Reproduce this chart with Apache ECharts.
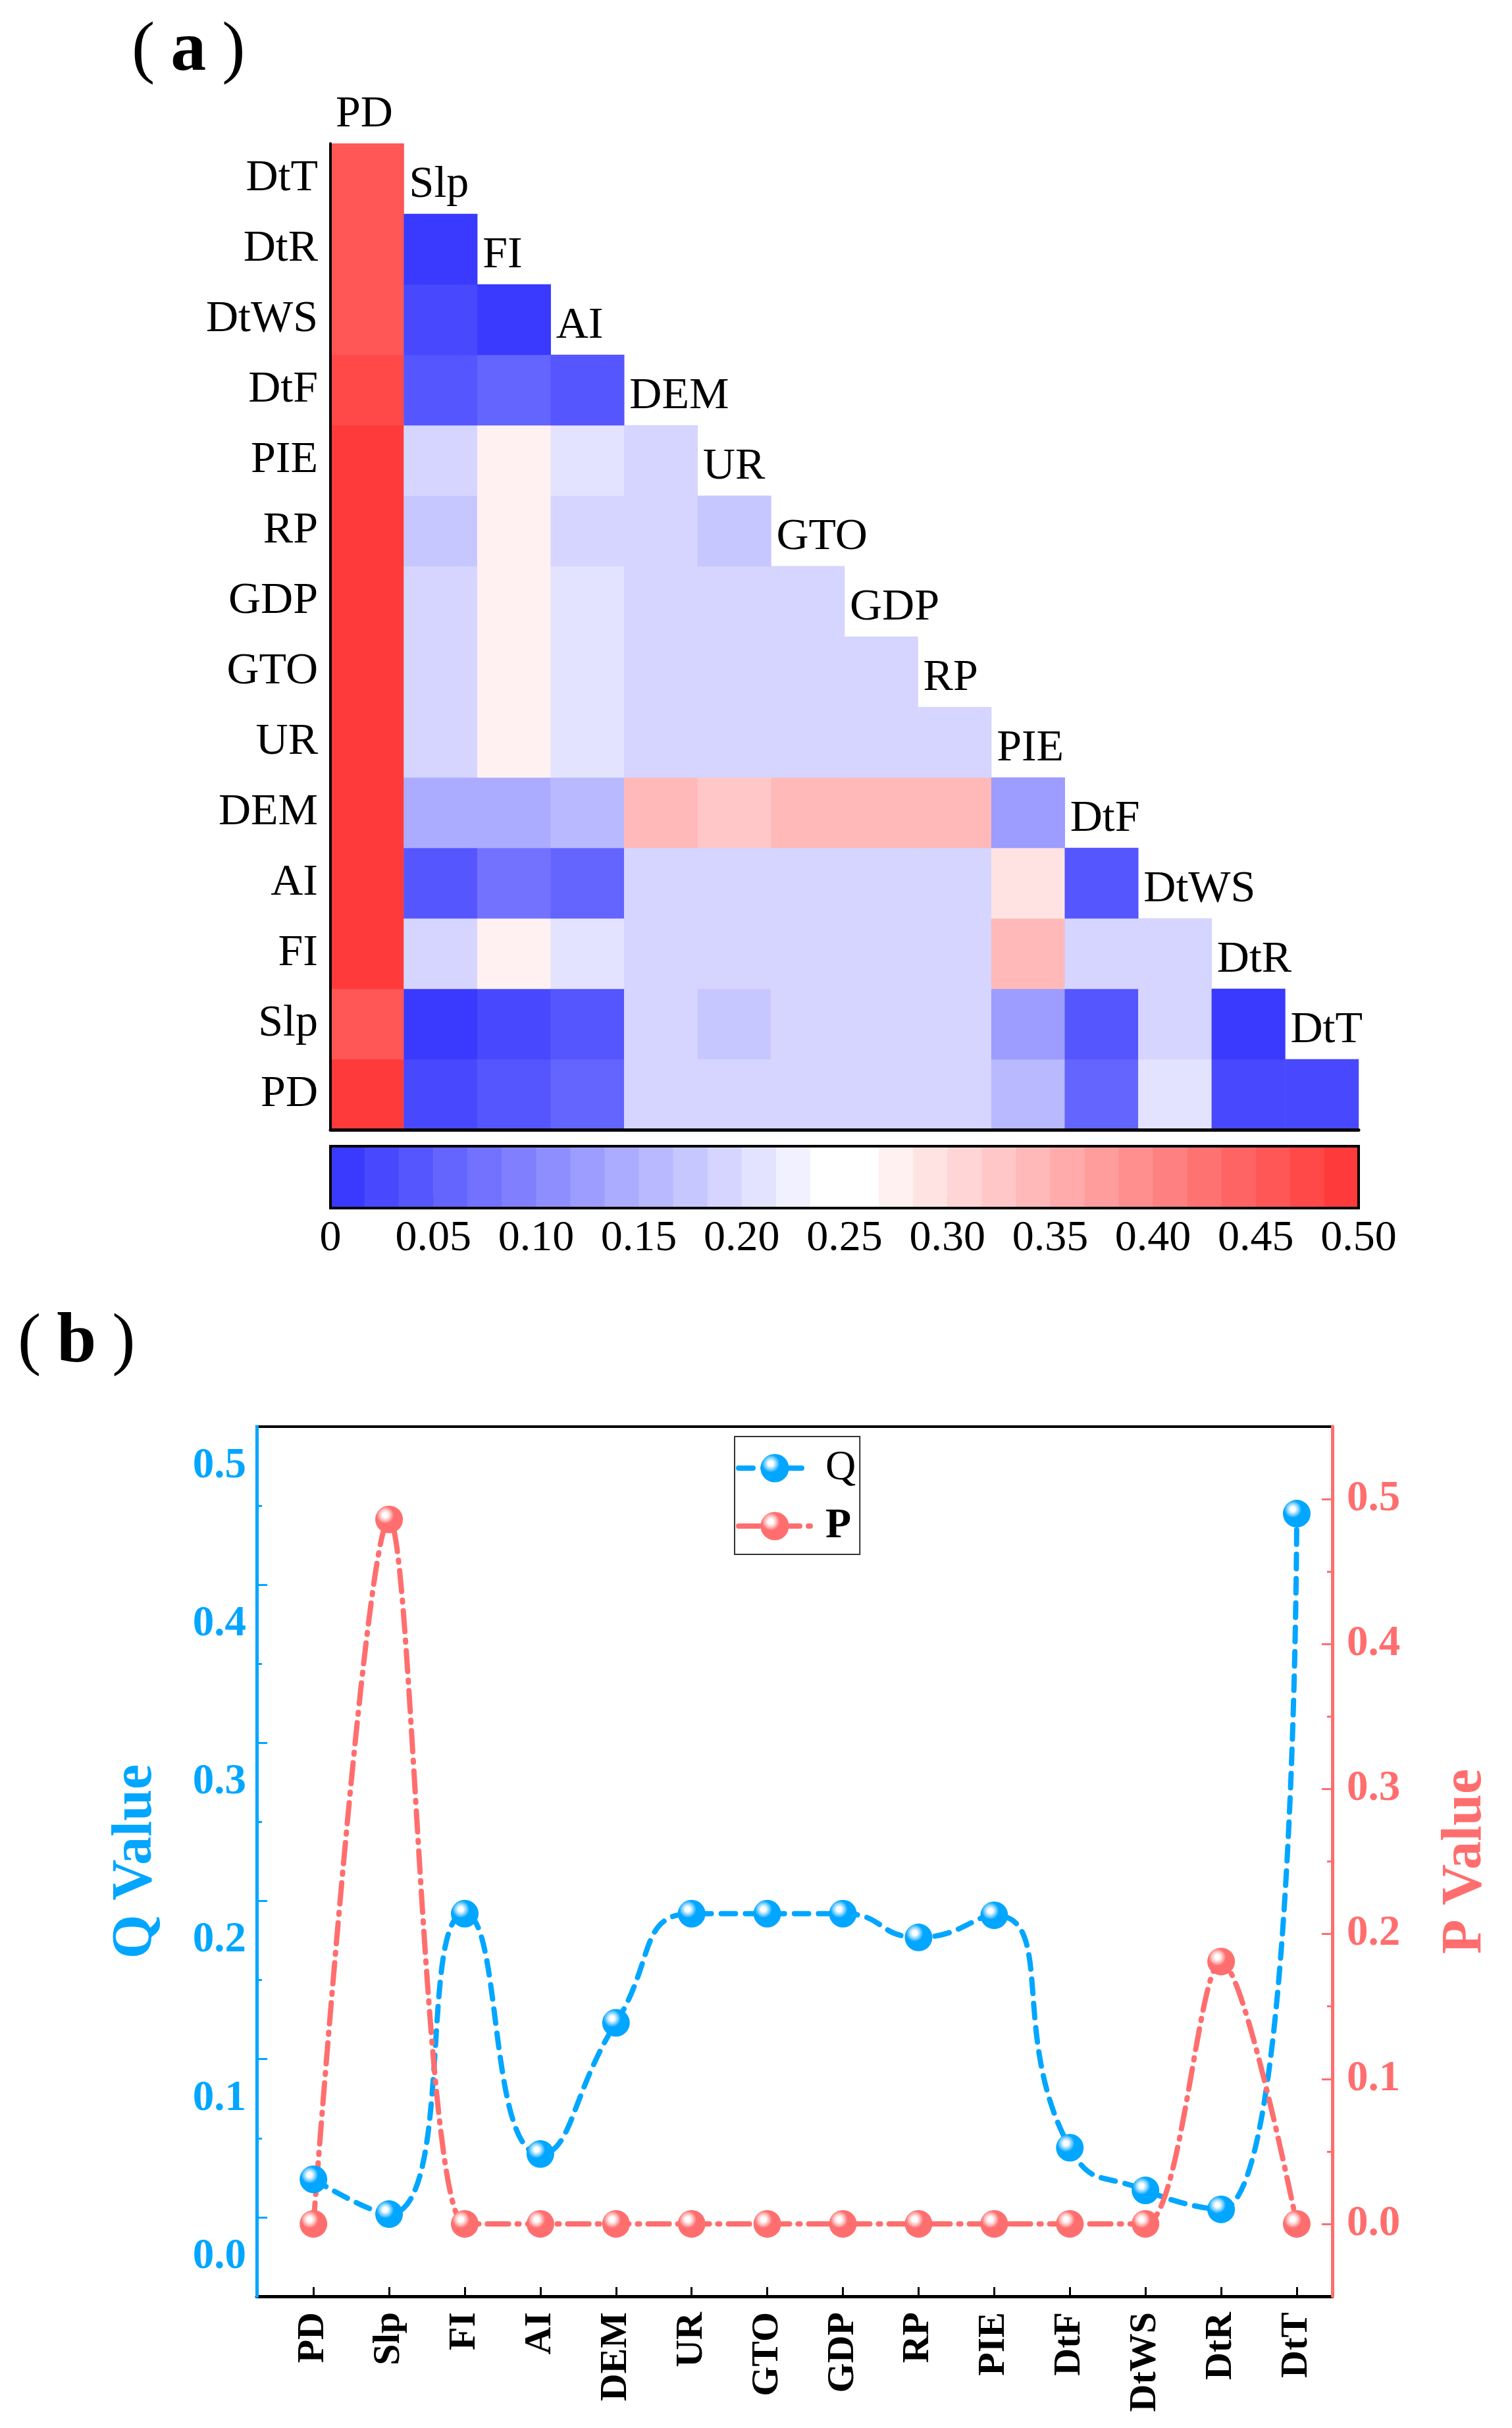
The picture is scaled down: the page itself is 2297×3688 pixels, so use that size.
<!DOCTYPE html>
<html>
<head>
<meta charset="utf-8">
<title>Interaction q heatmap and q / p values</title>
<script src="https://cdn.jsdelivr.net/npm/echarts@6.0.0/dist/echarts.min.js"></script>
<style>
  html, body { margin: 0; padding: 0; background: #fff; }
  #main { width: 2297px; height: 3688px; }
</style>
</head>
<body>
<div id="main"></div>
<script>
// factors, in axis order (bottom -> top on the heatmap y axis, left -> right on x)
const factors = ['PD', 'Slp', 'FI', 'AI', 'DEM', 'UR', 'GTO', 'GDP', 'RP', 'PIE', 'DtF', 'DtWS', 'DtR', 'DtT'];

// interaction q, one row per y-axis factor, values across the columns PD, Slp, ...
const qRowPD   = [0.490, 0.025, 0.040, 0.058, 0.192, 0.190, 0.191, 0.191, 0.189, 0.158, 0.057, 0.208, 0.026, 0.027];
const qRowSlp  = [0.458, 0.010, 0.026, 0.041, 0.192, 0.176, 0.191, 0.190, 0.190, 0.125, 0.042, 0.192, 0.009];
const qRowFI   = [0.491, 0.192, 0.275, 0.210, 0.193, 0.192, 0.193, 0.193, 0.192, 0.340, 0.191, 0.192];
const qRowAI   = [0.492, 0.040, 0.072, 0.058, 0.190, 0.190, 0.190, 0.190, 0.190, 0.290, 0.041];
const qRowDEM  = [0.493, 0.142, 0.142, 0.158, 0.342, 0.325, 0.341, 0.341, 0.341, 0.125];
const qRowUR   = [0.492, 0.192, 0.274, 0.209, 0.192, 0.192, 0.192, 0.192, 0.192];
const qRowGTO  = [0.492, 0.192, 0.275, 0.209, 0.192, 0.192, 0.192, 0.192];
const qRowGDP  = [0.492, 0.192, 0.275, 0.209, 0.192, 0.192, 0.192];
const qRowRP   = [0.492, 0.176, 0.275, 0.192, 0.192, 0.176];
const qRowPIE  = [0.492, 0.192, 0.276, 0.209, 0.192];
const qRowDtF  = [0.475, 0.042, 0.058, 0.042];
const qRowDtWS = [0.458, 0.025, 0.008];
const qRowDtR  = [0.458, 0.008];
const qRowDtT  = [0.458];
const qRows = [qRowPD, qRowSlp, qRowFI, qRowAI, qRowDEM, qRowUR, qRowGTO, qRowGDP,
               qRowRP, qRowPIE, qRowDtF, qRowDtWS, qRowDtR, qRowDtT];

// single factor q and p values (panel b)
const qValue = [0.049, 0.027, 0.217, 0.065, 0.148, 0.217, 0.217, 0.217, 0.202, 0.216, 0.069, 0.042, 0.030, 0.470];
const pValue = [0.000, 0.486, 0.000, 0.000, 0.000, 0.000, 0.000, 0.000, 0.000, 0.000, 0.000, 0.000, 0.181, 0.000];

// tick labels
const qLabels = [0, 0.1, 0.2, 0.3, 0.4, 0.5];
const qMajorTicks = [0.025, 0.125, 0.225, 0.325, 0.425];
const qMinorTicks = [0.075, 0.175, 0.275, 0.375, 0.475];
const pLabels = [0, 0.1, 0.2, 0.3, 0.4, 0.5];
const pMinorTicks = [0.05, 0.15, 0.25, 0.35, 0.45];

// colour bar: 30 steps from blue through white to red over 0 .. 0.5
const barSteps = 30;
const barMax = 0.5;
const blueEnd = [58, 58, 255];
const redEnd = [255, 58, 58];
const white = [255, 255, 255];
function mix(a, b, t) {
  const c = a.map((v, i) => Math.round(v + (b[i] - v) * t));
  return 'rgb(' + c.join(',') + ')';
}
const palette = [];
for (let k = 0; k < barSteps; k++) {
  palette.push(k < barSteps / 2 ? mix(blueEnd, white, k / 14) : mix(white, redEnd, (k - 15) / 14));
}
const step = barMax / barSteps;
const pieces = palette.map((color, k) => (k === barSteps - 1
  ? { gte: k * step, lte: barMax, color }
  : { gte: k * step, lt: (k + 1) * step, color }));
const barCells = palette.map((c, k) => [k * step, (k + 1) * step, k]);

const heatData = [];
qRows.forEach((row, r) => row.forEach((v, c) => heatData.push([c, r, v])));

const serif = '"Liberation Serif", "Times New Roman", serif';
const qColor = '#00a6ff';
const pColor = '#ff6e6e';

function ball(base, ring) {
  return {
    type: 'radial', x: 0.36, y: 0.34, r: 0.7,
    colorStops: [
      { offset: 0, color: '#ffffff' },
      { offset: 0.12, color: '#ffffff' },
      { offset: 0.28, color: ring },
      { offset: 0.45, color: base },
      { offset: 1, color: base }
    ]
  };
}

function panelTag(letter, left, top) {
  return {
    type: 'text', left: left, top: top,
    style: {
      text: '{p|(}{b|' + letter + '}{p|)}',
      rich: {
        p: { fontFamily: serif, fontSize: 106, fill: '#000' },
        b: { fontFamily: serif, fontSize: 108, fontWeight: 'bold', fill: '#000', padding: [0, 24, 0, 24] }
      }
    }
  };
}

const chart = echarts.init(document.getElementById('main'), null, { renderer: 'canvas' });

const option = {
  backgroundColor: '#fff',
  animation: false,
  graphic: [panelTag('a', 200, 24), panelTag('b', 27, 1986)],
  visualMap: {
    type: 'piecewise', show: false, seriesIndex: 0, dimension: 2, pieces: pieces
  },
  legend: {
    data: ['Q', 'P'],
    orient: 'vertical',
    left: 1116, top: 2182,
    itemWidth: 110, itemHeight: 54, itemGap: 24,
    padding: [16, 6, 11, 2],
    borderColor: '#333', borderWidth: 2,
    lineStyle: { width: 8 },
    formatter: name => (name === 'P' ? '{bold|P}' : '{reg|Q}'),
    textStyle: {
      padding: [0, 0, 0, 17], lineHeight: 54,
      rich: {
        reg: { fontFamily: serif, fontSize: 64, color: '#000', lineHeight: 54 },
        bold: { fontFamily: serif, fontSize: 64, fontWeight: 'bold', color: '#000', lineHeight: 54 }
      }
    }
  },
  grid: [
    { left: 502, top: 218, width: 1562, height: 1498 },
    { left: 502, top: 1741, width: 1562, height: 94, show: true, borderColor: '#000', borderWidth: 4, z: 10 },
    { left: 390, top: 2167, width: 1634, height: 1321, show: true, borderColor: '#000', borderWidth: 4 }
  ],
  xAxis: [
    {
      type: 'category', gridIndex: 0, data: factors, z: 5,
      axisLine: { lineStyle: { color: '#000', width: 5 } },
      axisTick: { show: false }, axisLabel: { show: false }, splitLine: { show: false }
    },
    {
      type: 'value', gridIndex: 1, min: 0, max: barMax, interval: 0.05,
      axisLine: { show: false },
      axisTick: { inside: true, length: 17, lineStyle: { color: '#000', width: 2 } },
      axisLabel: {
        margin: 14, fontFamily: serif, fontSize: 66, color: '#000',
        formatter: v => (v === 0 ? '0' : v.toFixed(2))
      },
      splitLine: { show: false }
    },
    {
      type: 'value', gridIndex: 2, min: -0.75, max: 13.47,
      axisLine: { onZero: false, lineStyle: { color: '#000', width: 5 } },
      axisTick: { inside: true, length: 14, lineStyle: { color: '#000', width: 3 },
                  customValues: factors.map((f, i) => i) },
      axisLabel: {
        rotate: 90, margin: 24, fontFamily: serif, fontSize: 58, fontWeight: 'bold', color: '#000',
        customValues: factors.map((f, i) => i),
        formatter: v => factors[Math.round(v)]
      },
      splitLine: { show: false }
    }
  ],
  yAxis: [
    {
      type: 'category', gridIndex: 0, data: factors, z: 5,
      axisLine: { lineStyle: { color: '#000', width: 4 } },
      axisTick: { show: false },
      axisLabel: { margin: 19, fontFamily: serif, fontSize: 68, color: '#000' },
      splitLine: { show: false }
    },
    { type: 'value', gridIndex: 1, min: 0, max: 1, show: false },
    {
      type: 'value', gridIndex: 2, position: 'left', min: -0.025, max: 0.525, z: 5,
      name: 'Q Value', nameLocation: 'middle', nameRotate: 90, nameGap: 140,
      nameTextStyle: { fontFamily: serif, fontSize: 86, fontWeight: 'bold', color: qColor },
      axisLine: { onZero: false, lineStyle: { color: qColor, width: 5 } },
      axisTick: { inside: true, length: 16, lineStyle: { color: qColor, width: 3 }, customValues: qMajorTicks },
      axisLabel: {
        margin: 16, fontFamily: serif, fontSize: 65, fontWeight: 'bold', color: qColor,
        customValues: qLabels, formatter: v => v.toFixed(1)
      },
      splitLine: { show: false }
    },
    {
      type: 'value', gridIndex: 2, position: 'left', min: -0.025, max: 0.525, z: 5,
      axisLine: { show: false, onZero: false },
      axisTick: { inside: true, length: 8, lineStyle: { color: qColor, width: 3 }, customValues: qMinorTicks },
      axisLabel: { show: false }, splitLine: { show: false }
    },
    {
      type: 'value', gridIndex: 2, position: 'right', min: -0.05, max: 0.55, z: 5,
      name: 'P Value', nameLocation: 'middle', nameRotate: 90, nameGap: 160,
      nameTextStyle: { fontFamily: serif, fontSize: 86, fontWeight: 'bold', color: pColor },
      axisLine: { onZero: false, lineStyle: { color: pColor, width: 5 } },
      axisTick: { inside: true, length: 16, lineStyle: { color: pColor, width: 3 }, customValues: pLabels },
      axisLabel: {
        margin: 22, fontFamily: serif, fontSize: 65, fontWeight: 'bold', color: pColor,
        customValues: pLabels, formatter: v => v.toFixed(1)
      },
      splitLine: { show: false }
    },
    {
      type: 'value', gridIndex: 2, position: 'right', min: -0.05, max: 0.55, z: 5,
      axisLine: { show: false, onZero: false },
      axisTick: { inside: true, length: 8, lineStyle: { color: pColor, width: 3 }, customValues: pMinorTicks },
      axisLabel: { show: false }, splitLine: { show: false }
    }
  ],
  series: [
    {
      type: 'heatmap', xAxisIndex: 0, yAxisIndex: 0, data: heatData,
      itemStyle: { borderWidth: 0 }, emphasis: { disabled: true }, progressive: 0
    },
    {
      // colour bar cells
      type: 'custom', xAxisIndex: 1, yAxisIndex: 1, data: barCells, silent: true,
      encode: { x: [0, 1] },
      renderItem(params, api) {
        const p0 = api.coord([api.value(0), 0]);
        const p1 = api.coord([api.value(1), 1]);
        return {
          type: 'rect',
          shape: { x: p0[0], y: p1[1], width: p1[0] - p0[0] + 0.6, height: p0[1] - p1[1] },
          style: { fill: palette[api.value(2)] }
        };
      }
    },
    {
      // factor names written above each heatmap column
      type: 'custom', xAxisIndex: 0, yAxisIndex: 0, silent: true,
      data: factors.map((f, c) => [c, factors.length - 1 - c]),
      renderItem(params, api) {
        const c = api.value(0);
        const pt = api.coord([c, api.value(1)]);
        const size = api.size([1, 1]);
        return {
          type: 'text',
          style: {
            text: factors[c], x: pt[0] - size[0] / 2 + 8, y: pt[1] - size[1] + 10,
            fill: '#000', fontFamily: serif, fontSize: 68, align: 'left', verticalAlign: 'middle'
          }
        };
      }
    },
    {
      name: 'Q', type: 'line', xAxisIndex: 2, yAxisIndex: 2,
      data: qValue.map((v, i) => [i, v]),
      smooth: 0.55, symbol: 'circle', symbolSize: 42,
      itemStyle: { color: ball(qColor, '#8fd6ff') },
      lineStyle: { color: qColor, width: 8, type: [22, 15], cap: 'round' }
    },
    {
      name: 'P', type: 'line', xAxisIndex: 2, yAxisIndex: 4,
      data: pValue.map((v, i) => [i, v]),
      smooth: 0.3, symbol: 'circle', symbolSize: 42,
      itemStyle: { color: ball(pColor, '#ffc2c2') },
      lineStyle: { color: pColor, width: 8, type: [32, 13, 3, 13], cap: 'round' }
    }
  ]
};

chart.setOption(option);
</script>
</body>
</html>
